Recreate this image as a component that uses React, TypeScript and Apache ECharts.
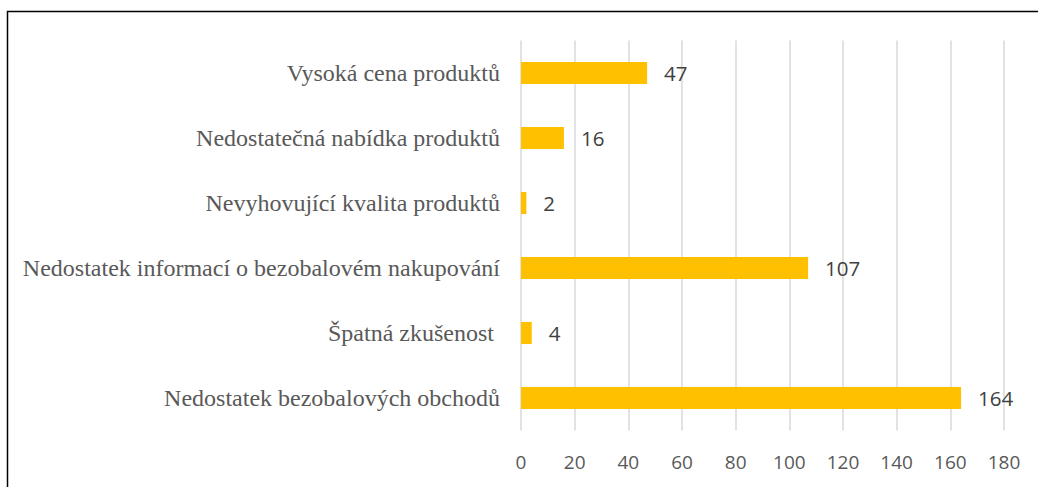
import React, { useEffect, useRef } from "react";
import * as echarts from "echarts";

const categories = [
  "Vysoká cena produktů",
  "Nedostatečná nabídka produktů",
  "Nevyhovující kvalita produktů",
  "Nedostatek informací o bezobalovém nakupování",
  "Špatná zkušenost ",
  "Nedostatek bezobalových obchodů",
];
const values = [47, 16, 2, 107, 4, 164];
const axisMin = 0;
const axisMax = 180;
const axisStep = 20;

export default function App() {
  const ref = useRef<HTMLDivElement>(null);
  useEffect(() => {
    if (!ref.current) return;
    const chart = echarts.init(ref.current, null, { renderer: "svg" });
    chart.setOption({
      animation: false,
      backgroundColor: "#ffffff",
      graphic: [
        {
          type: "rect",
          shape: { x: 7.5, y: 11.5, width: 1100, height: 600 },
          style: { fill: "none", stroke: "#000000", lineWidth: 1.5 },
          silent: true,
        },
      ],
      grid: { left: 521, right: 34, top: 40.5, bottom: 56.5, containLabel: false },
      xAxis: {
        type: "value",
        min: axisMin,
        max: axisMax,
        interval: axisStep,
        axisLine: { show: false },
        axisTick: { show: false },
        splitLine: { show: true, lineStyle: { color: "#d9d9d9", width: 1.5 } },
        axisLabel: {
          color: "#595959",
          fontFamily: "Open Sans",
          fontSize: 19,
          margin: 22,
        },
      },
      yAxis: {
        type: "category",
        data: categories,
        inverse: true,
        axisLine: { show: false },
        axisTick: { show: false },
        splitLine: { show: false },
        axisLabel: {
          color: "#595959",
          fontFamily: "Liberation Serif",
          fontSize: 24,
          margin: 21,
        },
      },
      series: [
        {
          type: "bar",
          data: values,
          barWidth: "34%",
          itemStyle: { color: "#FFC000" },
          label: {
            show: true,
            position: "right",
            distance: 17,
            color: "#404040",
            fontFamily: "Open Sans",
            fontSize: 20.5,
          },
        },
      ],
    });
    return () => chart.dispose();
  }, []);
  return (
    <div
      ref={ref}
      style={{ position: "absolute", left: 0, top: 0, width: 1038, height: 487 }}
    />
  );
}
